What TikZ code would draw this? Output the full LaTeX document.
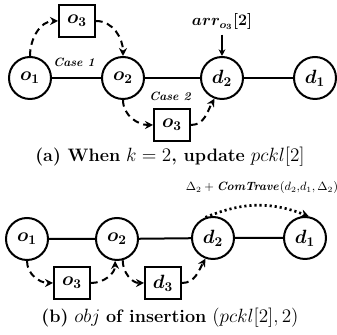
\documentclass[tikz,border=0pt]{standalone}
\usepackage{amsmath,bm}
\usetikzlibrary{arrows.meta}
\tikzset{
  circ/.style={circle, draw, line width=1.5pt, minimum size=31.5pt, inner sep=0pt, font=\Large, fill=white},
  sq/.style={rectangle, draw, line width=1.5pt, minimum width=27pt, minimum height=24pt, inner sep=0pt, font=\Large},
  dasharr/.style={line width=1.5pt, dash pattern=on 5pt off 3.5pt, -{Stealth[length=6pt,width=6pt]}},
  dotarr/.style={line width=2pt, dash pattern=on 1.6pt off 2.2pt, -{Stealth[length=6pt,width=6pt]}},
  casetext/.style={font=\small\bfseries\itshape},
  captext/.style={font=\fontsize{13.5}{16}\selectfont}
}
\begin{document}
\begin{tikzpicture}[x=0.75pt,y=0.75pt]
\useasboundingbox (0,0) rectangle (337,335);
% (a) top row
\node[circ] (a1) at (30,257) {$\bm{o_1}$};
\node[circ] (a2) at (123,257) {$\bm{o_2}$};
\node[circ] (a3) at (222,257) {$\bm{d_2}$};
\node[circ] (a4) at (315,257) {$\bm{d_1}$};
\node[sq] (a5) at (77,314) {$\bm{o_3}$};
\node[sq] (a6) at (172,210) {$\bm{o_3}$};
\draw [line width=1.5pt] (a1)--(a2)--(a3)--(a4);
\node[casetext] (case1) at (74,273) {Case 1};
\node[casetext] (case2) at (170,239) {Case 2};
\node[font=\large] (arr) at (222,313) {$\bm{arr_{o_3}[2]}$};
\draw [line width=1.2pt, -{Stealth[length=5pt,width=5pt]}] (arr.south)--(a3.north);
\draw [dasharr] (a1.north) to[out=90,in=180] (a5.west);
\draw [dasharr] (a5.east) to[out=0,in=90] (a2.north);
\draw [dasharr] (a2.south) to[out=-90,in=180] (a6.west);
\draw [dasharr] (a6.east) to[out=0,in=-120] (a3.-110);
\node[captext] (capa) at (170,178) {\textbf{(a) When} $k=2$\textbf{, update} $pckl[2]$};
% (b) bottom row
\node[circ] (b1) at (27,96) {$\bm{o_1}$};
\node[circ] (b2) at (117,96) {$\bm{o_2}$};
\node[circ] (b3) at (213,97) {$\bm{d_2}$};
\node[circ] (b4) at (305,97) {$\bm{d_1}$};
\node[sq] (b5) at (72,52) {$\bm{o_3}$};
\node[sq] (b6) at (163,52) {$\bm{d_3}$};
\draw [line width=1.5pt] (b1)--(b2)--(b3)--(b4);
\node[font=\fontsize{8.6}{10}\selectfont, inner sep=1pt] (delta) at (262,147) {$\Delta_2+\bm{\mathit{ComTrave}}(d_2{,}d_1,\Delta_2)$};
\draw [dasharr] (b1.south) to[out=-90,in=180] (b5.west);
\draw [dasharr] (b5.east) to[out=0,in=-90] (b2.-95);
\draw [dasharr] (b2.-75) to[out=-90,in=180] (b6.west);
\draw [dasharr] (b6.east) to[out=0,in=-120] (b3.-110);
\draw [dotarr] (b3.110) to[bend left=22] (b4.80);
\node[captext] (capb) at (170,17) {\textbf{(b)} $obj$ \textbf{of insertion} $(pckl[2],2)$};
\end{tikzpicture}
\end{document}
